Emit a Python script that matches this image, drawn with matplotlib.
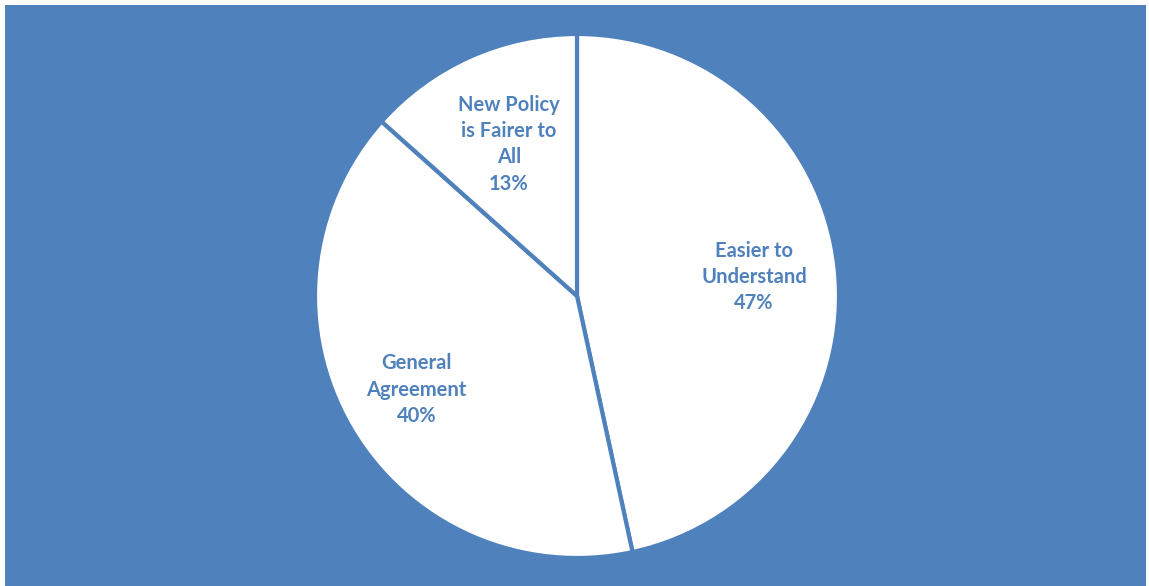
import matplotlib
matplotlib.use("Agg")
import matplotlib.pyplot as plt
import numpy as np
from matplotlib.patches import Rectangle

labels = ["Easier to\nUnderstand", "General\nAgreement", "New Policy\nis Fairer to\nAll"]
values = [46.6, 40.0, 13.4]

BLUE = "#4F81BD"
W, H = 1149, 586
LABEL_DIST = [0.68, 0.71, 0.635]  # label distance from centre, per slice

fig = plt.figure(figsize=(W / 100, H / 100), dpi=100, facecolor="white")
# blue chart area (thin white strip at top, left, right)
fig.patches.append(Rectangle((5 / W, 0), (1146 - 5) / W, (H - 5) / H,
                             transform=fig.transFigure, facecolor=BLUE,
                             edgecolor="none", zorder=-10))

cx, cy, r = 577, 296, 262
ax = fig.add_axes([(cx - r) / W, (H - cy - r) / H, 2 * r / W, 2 * r / H])
ax.set_zorder(5)
ax.set_facecolor("none")

it = iter(labels)
wedges, texts, autotexts = ax.pie(
    values, startangle=90, counterclock=False,
    colors=["white"] * len(values),
    wedgeprops=dict(edgecolor=BLUE, linewidth=3),
    autopct=lambda p: f"{next(it)}\n{p:.0f}%",
    pctdistance=0.68,
    textprops=dict(color=BLUE, fontsize=14.5, fontweight="bold",
                   family="Lato", linespacing=1.4),
)
# nudge each label along its slice's mid angle
for w, t, d in zip(wedges, autotexts, LABEL_DIST):
    mid = np.deg2rad((w.theta1 + w.theta2) / 2)
    t.set_position((d * np.cos(mid), d * np.sin(mid)))

ax.set_xlim(-1, 1)
ax.set_ylim(-1, 1)
ax.axis("off")

fig.savefig("out.png", dpi=100, facecolor="white")
